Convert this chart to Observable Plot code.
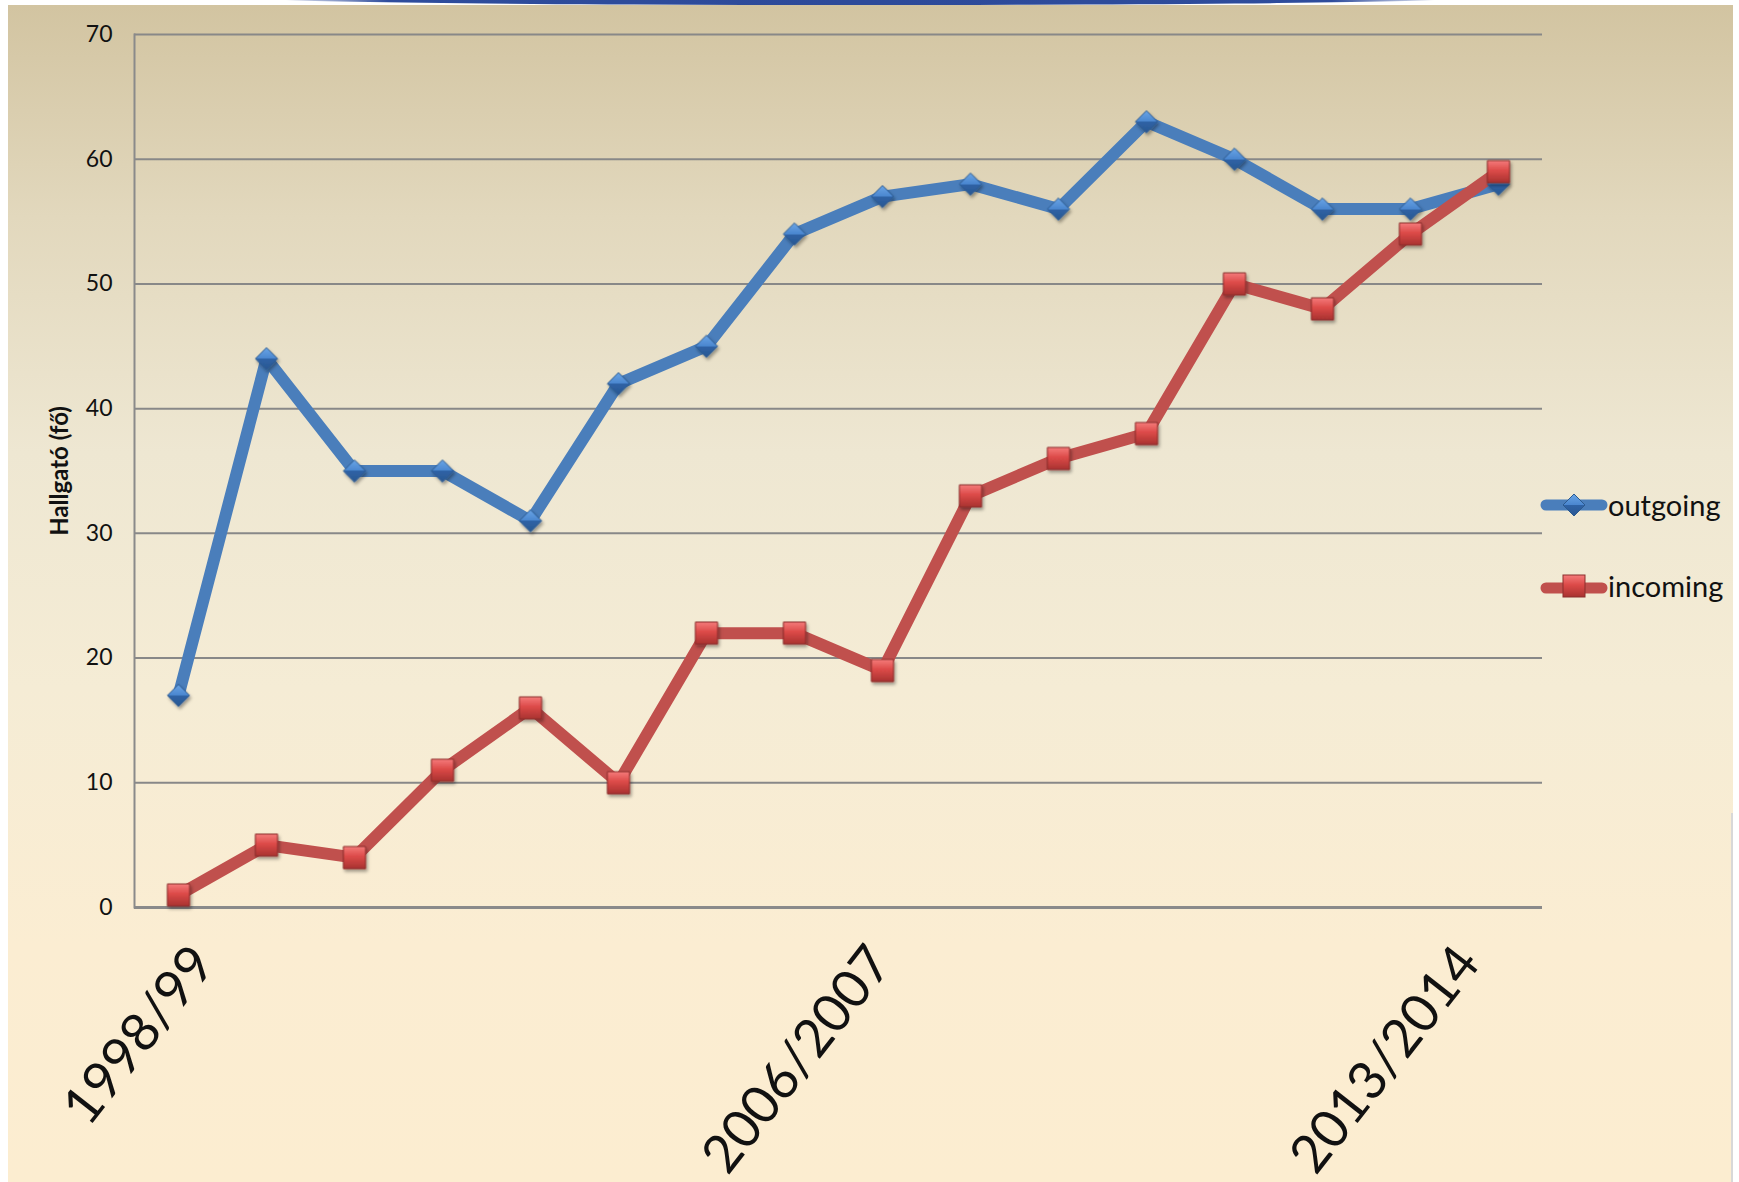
<!DOCTYPE html>
<html>
<head>
<meta charset="utf-8">
<script src="https://cdn.jsdelivr.net/npm/d3@7"></script>
<script src="https://cdn.jsdelivr.net/npm/@observablehq/plot@0.6"></script>
<style>
  html, body { margin: 0; padding: 0; background: #ffffff; }
  #wrap { position: relative; width: 1739px; height: 1182px; overflow: hidden; font-family: Lato, "Open Sans", sans-serif; }
  #bg { position: absolute; left: 8px; top: 5px; width: 1725px; height: 1177px;
        background: linear-gradient(to bottom, #d2c4a1 0%, #e2d8bd 18%, #eee7d2 38%, #f5ecd5 58%, #fbedd2 80%, #fcedd0 100%); }
  #swoosh { position: absolute; left: 270px; top: -8px; width: 1180px; height: 13px; border-radius: 50%;
            background: linear-gradient(to right, rgba(46,76,156,0) 0%, #2e4c9c 10%, #2d4a9a 50%, #2e4c9c 90%, rgba(46,76,156,0) 100%); }
  #edge { position: absolute; left: 1731px; top: 813px; width: 2px; height: 369px; background: #d8d8d8; }
  #chart { position: absolute; left: 0; top: 0; }
  #chart svg { background: transparent; overflow: visible; }
  .legend { position: absolute; left: 1540px; display: flex; align-items: center; font-family: Lato, sans-serif; font-size: 29px; color: #111; }
  .legend svg { display: block; margin-right: 0px; }
</style>
</head>
<body>
<div id="wrap">
  <div id="bg"></div>
  <div id="swoosh"></div>
  <div id="edge"></div>
  <div id="chart"></div>
  <div class="legend" style="top:487px;">
    <svg width="68" height="30" viewBox="0 0 68 30">
      <line x1="6" y1="15" x2="62" y2="15" stroke="#4a7ebb" stroke-width="11" stroke-linecap="round"/>
      <path d="M34,4 L45,15 L34,26 L23,15 Z" fill="url(#lgBlue)" stroke="#2c5a8f" stroke-width="1"/>
      <defs>
        <linearGradient id="lgBlue" x1="0" y1="0" x2="0" y2="1">
          <stop offset="0" stop-color="#6aa5e6"/><stop offset="0.5" stop-color="#4a86cf"/>
          <stop offset="0.5" stop-color="#2f63a6"/><stop offset="1" stop-color="#2a5792"/>
        </linearGradient>
      </defs>
    </svg>
    <span>outgoing</span>
  </div>
  <div class="legend" style="top:568px;">
    <svg width="68" height="30" viewBox="0 0 68 30">
      <line x1="6" y1="17" x2="62" y2="17" stroke="#c0504d" stroke-width="11" stroke-linecap="round"/>
      <rect x="23" y="4" width="22" height="22" fill="url(#lgRed)" stroke="#8b2e2c" stroke-width="1"/>
      <defs>
        <linearGradient id="lgRed" x1="0" y1="0" x2="0" y2="1">
          <stop offset="0" stop-color="#f57b7b"/><stop offset="0.45" stop-color="#dc4a48"/>
          <stop offset="1" stop-color="#a83230"/>
        </linearGradient>
      </defs>
    </svg>
    <span>incoming</span>
  </div>
</div>
<script>
const years = ["1998/99","1999/2000","2000/2001","2001/2002","2002/2003","2003/2004","2004/2005","2005/2006",
               "2006/2007","2007/2008","2008/2009","2009/2010","2010/2011","2011/2012","2012/2013","2013/2014"];
const outgoing = [17, 44, 35, 35, 31, 42, 45, 54, 57, 58, 56, 63, 60, 56, 56, 58];
const incoming = [1, 5, 4, 11, 16, 10, 22, 22, 19, 33, 36, 38, 50, 48, 54, 59];
const shownTicks = ["1998/99", "2006/2007", "2013/2014"];
const yTicks = [0, 10, 20, 30, 40, 50, 60, 70];
const yLabel = "Hallgató (fő)";

const outData = years.map((year, i) => ({year, value: outgoing[i]}));
const inData = years.map((year, i) => ({year, value: incoming[i]}));

// per-label horizontal nudges (the original's rotated labels sit at slightly different offsets)
const labelShift = [25, -2, -30];
const xLabelAxes = shownTicks.map((t, i) =>
  Plot.axisX({ticks: [t], tickSize: 0, tickPadding: 0, tickRotate: -52, fontSize: 53,
              dx: labelShift[i], dy: 46, label: null}));

const chart = Plot.plot({
  width: 1739,
  height: 1182,
  marginLeft: 134,
  marginRight: 197,
  marginTop: 34,
  marginBottom: 275,
  style: {background: "transparent", fontFamily: "Lato, 'Open Sans', sans-serif", color: "#111"},
  x: {type: "point", domain: years, padding: 0.5},
  y: {domain: [0, 70]},
  marks: [
    Plot.gridY(yTicks.slice(1), {stroke: "#888888", strokeOpacity: 1, strokeWidth: 2}),
    Plot.ruleY([0], {stroke: "#8a8a8a", strokeWidth: 3}),
    Plot.frame({anchor: "left", stroke: "#8a8a8a", strokeWidth: 2}),
    Plot.axisY({ticks: yTicks, tickSize: 0, tickPadding: 22, fontSize: 23, label: null}),
    Plot.axisY({ticks: [], label: yLabel, labelAnchor: "center", labelArrow: "none", labelOffset: 84,
                fontSize: 24, fontWeight: "bold"}),
    ...xLabelAxes,
    Plot.lineY(outData, {x: "year", y: "value", stroke: "#4a7ebb", strokeWidth: 12, strokeLinejoin: "round", strokeLinecap: "butt"}),
    Plot.lineY(inData, {x: "year", y: "value", stroke: "#c0504d", strokeWidth: 12, strokeLinejoin: "round", strokeLinecap: "butt"}),
    Plot.dot(outData, {x: "year", y: "value", symbol: "diamond2", r: 10, fill: "url(#gBlue)", stroke: "#2c5a8f", strokeWidth: 1}),
    Plot.dot(inData, {x: "year", y: "value", symbol: "square", r: 12.5, fill: "url(#gRed)", stroke: "#8b2e2c", strokeWidth: 1})
  ]
});

const ns = "http://www.w3.org/2000/svg";
const defs = document.createElementNS(ns, "defs");
defs.innerHTML = `
  <linearGradient id="gBlue" x1="0" y1="0" x2="0" y2="1">
    <stop offset="0" stop-color="#6aa5e6"/><stop offset="0.5" stop-color="#4a86cf"/>
    <stop offset="0.5" stop-color="#2f63a6"/><stop offset="1" stop-color="#2a5792"/>
  </linearGradient>
  <linearGradient id="gRed" x1="0" y1="0" x2="0" y2="1">
    <stop offset="0" stop-color="#f57b7b"/><stop offset="0.45" stop-color="#dc4a48"/>
    <stop offset="1" stop-color="#a83230"/>
  </linearGradient>
  <filter id="shadow" x="-50%" y="-50%" width="200%" height="200%">
    <feDropShadow dx="1.5" dy="2.5" stdDeviation="1.5" flood-color="#000" flood-opacity="0.35"/>
  </filter>`;
chart.insertBefore(defs, chart.firstChild);
chart.querySelectorAll('g[aria-label="dot"]').forEach(g => g.setAttribute("filter", "url(#shadow)"));
document.getElementById("chart").appendChild(chart);
</script>
</body>
</html>
